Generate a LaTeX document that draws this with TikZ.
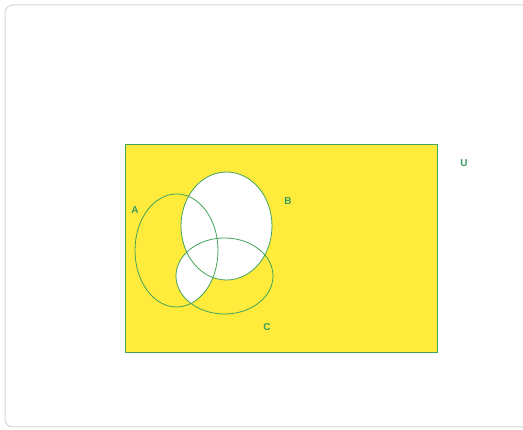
\documentclass[tikz,border=0pt]{standalone}
\usepackage{fontspec}
\setmainfont{Liberation Sans}
\usetikzlibrary{positioning}
\definecolor{card}{HTML}{D6D6D6}
\definecolor{sun}{HTML}{FFEB3B}
\definecolor{leaf}{HTML}{43A35A}
\definecolor{ink}{HTML}{3A9A5E}
\tikzset{
  setline/.style={draw=leaf, line width=0.8pt},
  setlbl/.style={text=ink, font=\fontsize{10}{12}\selectfont\bfseries, inner sep=0pt}
}
\begin{document}
\begin{tikzpicture}[x=1pt, y=-1pt]
  \useasboundingbox (0,0) rectangle (523,430);
  % card
  \draw[card, line width=1pt, rounded corners=8pt, fill=white] (5,5) rectangle (535,427);
  % universe
  \draw[setline, fill=sun] (125,144) rectangle (437,352);
  \coordinate (ca) at (176.5,250.5);
  \coordinate (cb) at (226.5,226);
  \coordinate (cc) at (224.5,276);
  % shaded region: B and A meet C
  \fill[white] (cb) ellipse [x radius=45.5, y radius=54];
  \begin{scope}
    \clip (ca) ellipse [x radius=41.5, y radius=56.5];
    \fill[white] (cc) ellipse [x radius=48.5, y radius=38];
  \end{scope}
  \draw[setline] (ca) ellipse [x radius=41.5, y radius=56.5];
  \draw[setline] (cb) ellipse [x radius=45.5, y radius=54];
  \draw[setline] (cc) ellipse [x radius=48.5, y radius=38];
  % labels
  \node[setlbl] (la) at (135,210) {A};
  \node[setlbl] (lb) at (288,201) {B};
  \node[setlbl] (lc) at (267,327) {C};
  \node[setlbl] (lu) at (464,163) {U};
\end{tikzpicture}
\end{document}
